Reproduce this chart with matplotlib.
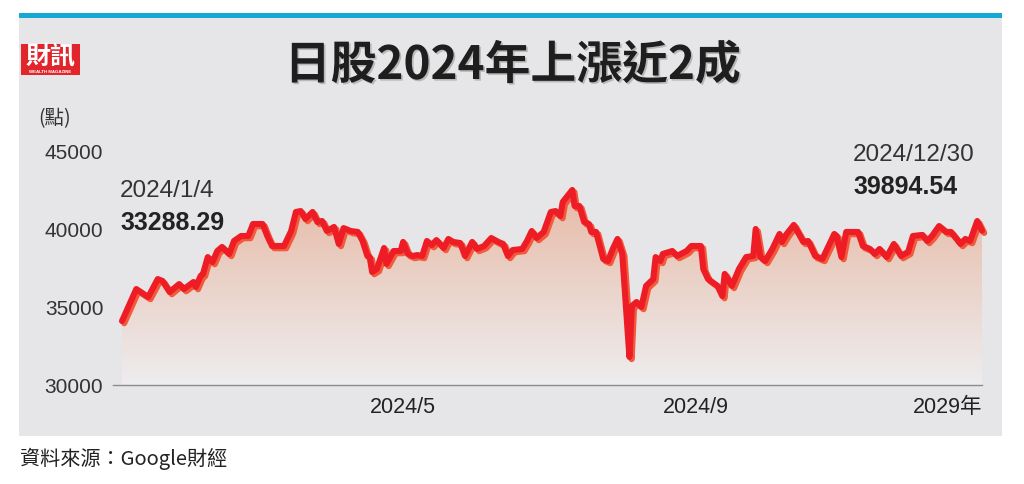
import matplotlib

matplotlib.use("Agg")

import matplotlib.dates as mdates
import matplotlib.patheffects as pe
import matplotlib.pyplot as plt
import numpy as np
import pandas as pd
from matplotlib.patches import Polygon, Rectangle

plt.rcParams["font.family"] = ["Liberation Sans", "Noto Sans CJK TC", "DejaVu Sans"]
plt.rcParams["axes.unicode_minus"] = False

CJK = ["Noto Sans CJK TC", "DejaVu Sans"]

# 日經指數 2024 走勢（自圖上讀取，day = 一年中的第幾天）
trade_day = [
    4, 10, 15, 19, 21, 24, 28, 30, 34, 35,
    37, 38, 40, 42, 44, 46, 49, 51, 54, 57,
    59, 63, 65, 67, 72, 75, 77, 79, 81, 84,
    86, 88, 90, 93, 95, 97, 100, 103, 105, 107,
    108, 109, 111, 114, 115, 118, 121, 122, 124, 126,
    128, 130, 132, 134, 136, 139, 141, 143, 146, 148,
    151, 153, 156, 159, 162, 164, 166, 168, 172, 174,
    176, 178, 181, 184, 186, 188, 189, 193, 194, 196,
    198, 200, 201, 203, 206, 208, 210, 212, 214, 217,
    218, 220, 222, 224, 227, 228, 230, 231, 235, 237,
    241, 243, 247, 248, 250, 254, 256, 257, 260, 263,
    266, 269, 270, 272, 274, 277, 280, 281, 283, 286,
    290, 292, 295, 298, 303, 304, 306, 308, 313, 315,
    318, 320, 322, 325, 328, 331, 334, 336, 340, 342,
    344, 347, 350, 352, 356, 358, 360, 363, 365,
]
close_pts = [
    34100, 36150, 35640, 36790, 36670, 35960, 36470, 36150, 36600, 36280,
    36990, 37120, 38200, 37880, 38590, 38850, 38400, 39230, 39550, 39550,
    40320, 40320, 39550, 38910, 38910, 39870, 41090, 41150, 40640, 41090,
    40450, 40510, 39870, 40130, 39040, 40060, 39870, 39810, 39230, 38270,
    38200, 37240, 37440, 38780, 37760, 38590, 38590, 39170, 38400, 38270,
    38330, 38270, 39230, 38970, 39290, 38780, 39360, 39170, 39100, 38270,
    39170, 38720, 38910, 39420, 39170, 39040, 38270, 38650, 38720, 39230,
    39870, 39420, 39810, 41090, 41150, 40830, 41730, 42500, 41470, 41470,
    40450, 40320, 39810, 39810, 38080, 37950, 38720, 39360, 38400, 31800,
    35060, 35320, 35000, 36350, 36790, 38200, 37950, 38400, 38590, 38270,
    38590, 38910, 38910, 37440, 36790, 36350, 35700, 37120, 36350, 37440,
    38200, 38270, 40000, 38200, 37950, 38720, 39680, 39170, 39680, 40260,
    39170, 39230, 38270, 38080, 39680, 39550, 38200, 39810, 39810, 38910,
    38720, 38400, 38720, 38200, 39040, 38270, 38530, 39550, 39620, 39230,
    39550, 40190, 39810, 39810, 39040, 39360, 39230, 40510, 39890,
]

y_ticks = [30000, 35000, 40000, 45000]
x_tick_dates = ["2024-05-01", "2024-09-01", "2024-12-30"]
x_tick_labels = ["2024/5", "2024/9", "2029年"]

W, H = 1024, 485


def px(x, y):
    """像素座標 → figure 比例座標"""
    return x / W, 1 - y / H


fig = plt.figure(figsize=(W / 100, H / 100), dpi=100, facecolor="white")

# 灰底面板 + 頂部藍條（zorder 低於座標軸）
fig.patches.append(Rectangle(px(19, 437), 983 / W, 418 / H, transform=fig.transFigure,
                             facecolor="#e6e6e8", edgecolor="none", zorder=-2))
fig.patches.append(Rectangle(px(19, 19), 983 / W, 5 / H, transform=fig.transFigure,
                             facecolor="#14a8d3", edgecolor="none", zorder=-1))

# 財訊 logo
fig.patches.append(Rectangle(px(21, 76), 59 / W, 31 / H, transform=fig.transFigure,
                             facecolor="#e2252b", edgecolor="none", zorder=-1))
fig.text(*px(50.5, 57), "財訊", family=CJK, fontsize=18, weight="bold", color="white",
         ha="center", va="center", zorder=2)
fig.text(*px(50.5, 72), "WEALTH MAGAZINE", fontsize=3.2, weight="bold", color="white",
         ha="center", va="center", zorder=2)

# 標題
fig.text(*px(513, 67), "日股2024年上漲近2成", family=CJK, fontsize=33, weight="bold",
         color="#1e1e1e", ha="center", va="center",
         path_effects=[pe.withSimplePatchShadow(offset=(1.2, -1.2), shadow_rgbFace="#9a9a9a", alpha=0.6)])

fig.text(*px(38, 119), "(點)", family=CJK, fontsize=14, color="#333333", ha="left", va="center")

ax_l, ax_b = px(113, 386)
ax_r, ax_t = px(982, 152)
ax = fig.add_axes([ax_l, ax_b, ax_r - ax_l, ax_t - ax_b])
ax.set_zorder(5)
ax.patch.set_alpha(0)

dates = pd.Timestamp("2024-01-01") + pd.to_timedelta(np.array(trade_day) - 1, unit="D")
xnum = mdates.date2num(dates)
close = np.array(close_pts, dtype=float)

x_left = mdates.date2num(pd.Timestamp("2023-12-31 05:20"))
x_right = mdates.date2num(pd.Timestamp("2024-12-30"))
ax.set_xlim(x_left, x_right)
ax.set_ylim(30000, 45000)

# 漸層填色（以折線下方多邊形裁切）
grad = np.linspace(0, 1, 256)[:, None]
top_c = np.array([231, 186, 166]) / 255
bot_c = np.array([238, 237, 239]) / 255
img = top_c[None, None, :] * (1 - grad[:, :, None]) + bot_c[None, None, :] * grad[:, :, None]
im = ax.imshow(img, extent=[xnum[0], xnum[-1], 30000, 42500], origin="upper",
               aspect="auto", zorder=1, interpolation="bilinear")
poly = Polygon(np.column_stack([np.r_[xnum[0], xnum, xnum[-1]], np.r_[30000, close, 30000]]),
               closed=True, facecolor="none", edgecolor="none", transform=ax.transData)
ax.add_patch(poly)
im.set_clip_path(poly)

ax.plot(xnum, close, color="#ee1c25", linewidth=4.4, solid_joinstyle="round",
        solid_capstyle="round", zorder=3, clip_on=False,
        path_effects=[pe.SimpleLineShadow(offset=(1.6, -1.6), shadow_color="#f25a3c", alpha=1.0),
                      pe.Normal()])

# 座標軸
for side in ["top", "right", "left"]:
    ax.spines[side].set_visible(False)
ax.spines["bottom"].set_color("#8c8c8c")
ax.spines["bottom"].set_linewidth(1.0)

ax.set_yticks(y_ticks)
ax.set_yticklabels([str(v) for v in y_ticks])
ax.tick_params(axis="y", length=0, pad=7, labelsize=15, labelcolor="#333333")

ax.set_xticks(mdates.date2num(pd.to_datetime(x_tick_dates)))
ax.set_xticklabels(x_tick_labels)
ax.tick_params(axis="x", length=0, pad=8, labelsize=15.5, labelcolor="#222222")
ax.get_xticklabels()[-1].set_horizontalalignment("right")

# 首尾標註
fig.text(*px(120, 191), "2024/1/4", fontsize=17.5, color="#333333", ha="left", va="center")
fig.text(*px(120, 223), f"{33288.29:.2f}", fontsize=18, weight="bold", color="#222222",
         ha="left", va="center")
fig.text(*px(853, 155), "2024/12/30", fontsize=17.5, color="#333333", ha="left", va="center")
fig.text(*px(853, 187), f"{39894.54:.2f}", fontsize=18, weight="bold", color="#222222",
         ha="left", va="center")

fig.text(*px(20, 459), "資料來源：Google財經", family=CJK, fontsize=14.5, color="#222222",
         ha="left", va="center")

fig.savefig("out.png", dpi=100, facecolor="white")
plt.close(fig)
